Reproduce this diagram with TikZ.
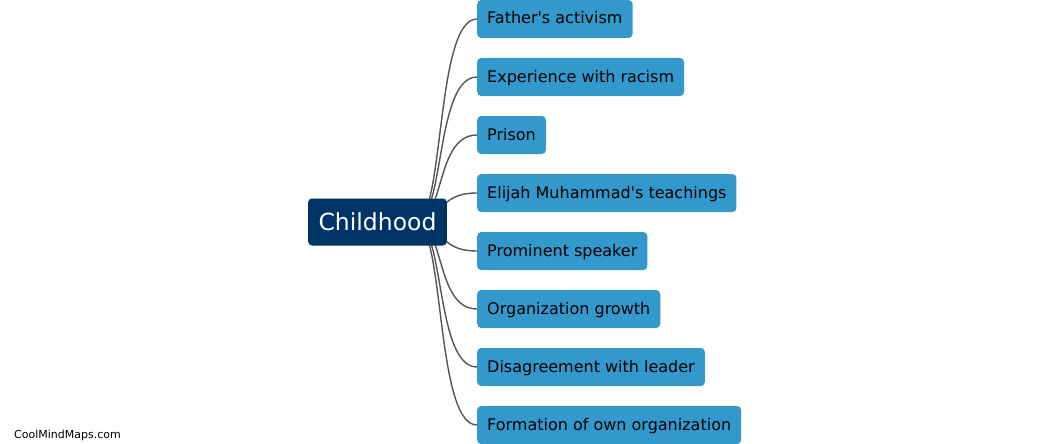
\documentclass[tikz,border=0pt]{standalone}
\usepackage{fontspec}
\setmainfont{DejaVu Sans}
\usepackage{tikz}
\usetikzlibrary{positioning, backgrounds}
\definecolor{rootblue}{RGB}{0, 51, 102}
\definecolor{leafblue}{RGB}{51, 153, 204}
\definecolor{branchgray}{RGB}{85, 85, 85}
\tikzstyle{topic} = [rectangle, rounded corners=4pt, minimum height=47pt, inner xsep=10.5pt, text centered, fill=rootblue, text=white, font=\fontsize{23.5}{26}\selectfont]
\tikzstyle{subtopic} = [rectangle, rounded corners=4pt, minimum height=38pt, inner xsep=10pt, inner ysep=0pt, text height=12pt, text depth=2pt, anchor=west, fill=leafblue, text=black, font=\fontsize{16}{18}\selectfont]
\tikzstyle{branch} = [line width=1.4pt, draw=branchgray]

\begin{document}
\begin{tikzpicture}[x=1pt, y=-1pt]
    \useasboundingbox (0,0) rectangle (1062,444);

    % Central topic
    \node[topic] (root) at (377.5, 222) {Childhood};
    \coordinate (hub) at (415, 222);

    % Subtopics
    \node[subtopic] (father) at (477, 19) {Father\textquotesingle s activism};
    \node[subtopic] (racism) at (477, 77) {Experience with racism};
    \node[subtopic] (prison) at (477, 135) {Prison};
    \node[subtopic] (elijah) at (477, 193) {Elijah Muhammad\textquotesingle s teachings};
    \node[subtopic] (speaker) at (477, 251) {Prominent speaker};
    \node[subtopic] (growth) at (477, 309) {Organization growth};
    \node[subtopic] (leader) at (477, 367) {Disagreement with leader};
    \node[subtopic] (formation) at (477, 425) {Formation of own organization};

    % Branches
    \begin{scope}[on background layer]
        \foreach \leaf in {father, racism, prison, elijah, speaker, growth, leader, formation}
            \draw[branch] (hub) .. controls +(30,0) and +(-42,0) .. (\leaf.west);
    \end{scope}

    % Watermark
    \node[anchor=west, font=\fontsize{11}{13}\selectfont, inner sep=0pt] (mark) at (14, 435) {CoolMindMaps.com};

\end{tikzpicture}
\end{document}
